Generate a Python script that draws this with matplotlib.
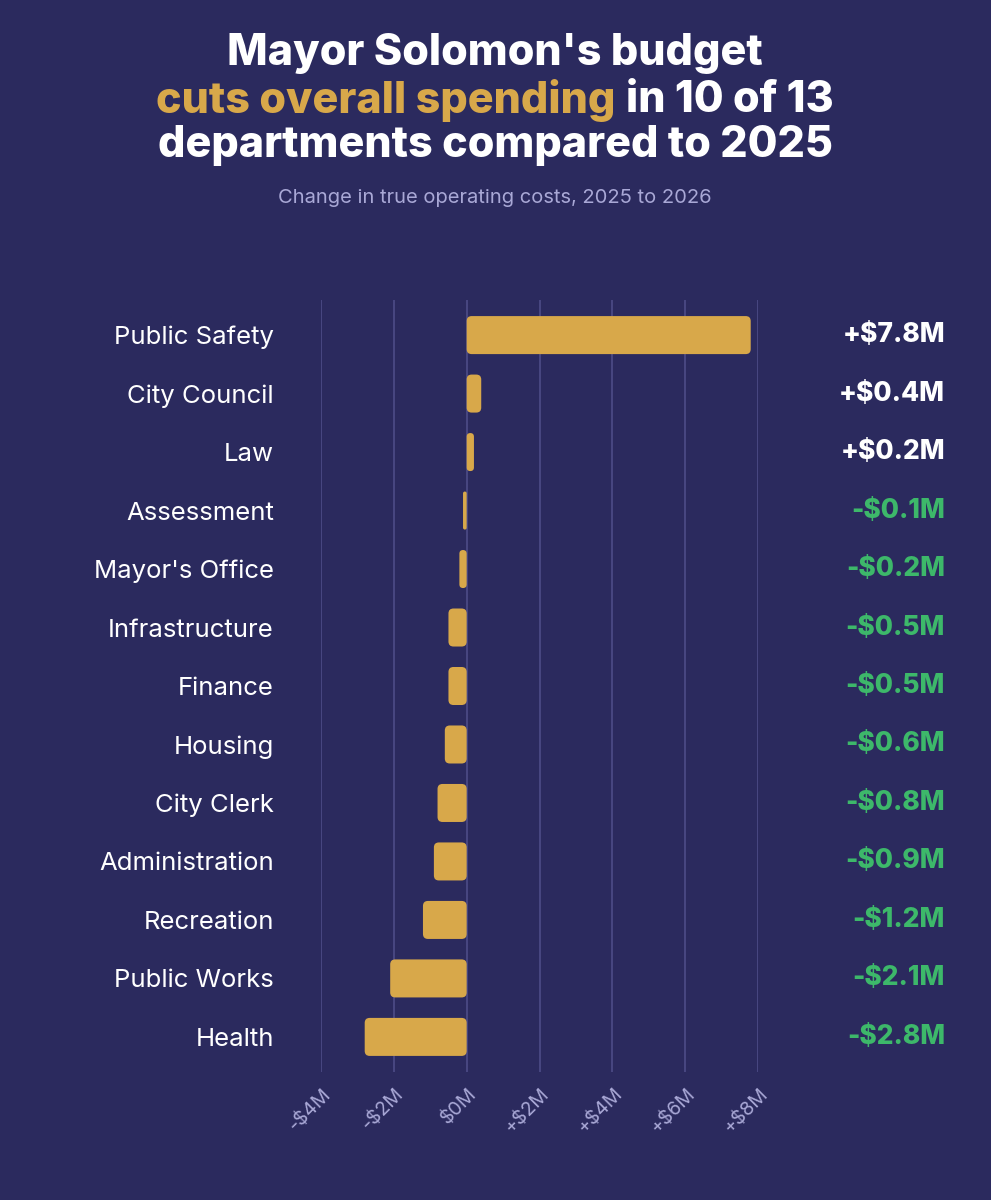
import matplotlib.pyplot as plt
import matplotlib.transforms as mtransforms
from matplotlib.patches import FancyBboxPatch

departments = ["Public Safety", "City Council", "Law", "Assessment", "Mayor's Office",
               "Infrastructure", "Finance", "Housing", "City Clerk", "Administration",
               "Recreation", "Public Works", "Health"]
changes = [7.8, 0.4, 0.2, -0.1, -0.2, -0.5, -0.5, -0.6, -0.8, -0.9, -1.2, -2.1, -2.8]
tick_values = [-4, -2, 0, 2, 4, 6, 8]
tick_labels = ["-$4M", "-$2M", "$0M", "+$2M", "+$4M", "+$6M", "+$8M"]

BG = "#2B2A5E"
GOLD = "#D8A84A"
GREEN = "#3DB86A"
GRID = "#4B4A84"
SUB = "#A9A8D6"
FONT = ["Inter", "DejaVu Sans"]

plt.rcParams["font.family"] = FONT

W, H = 991, 1200
fig = plt.figure(figsize=(W / 100, H / 100), dpi=100, facecolor=BG)

ax = fig.add_axes([321 / W, 1 - 1072 / H, (758 - 321) / W, (1072 - 300) / H])
ax.set_facecolor(BG)

ypos = list(range(len(departments)))
bars = ax.barh(ypos, changes, height=0.65, color=GOLD)

# swap plain bars for rounded ones
px_x = (758 - 321) / 12.0
px_y = (1072 - 300) / 13.2
for b in bars:
    x0, y0 = b.get_x(), b.get_y()
    w, h = b.get_width(), b.get_height()
    if w < 0:
        x0, w = x0 + w, -w
    r = min(5 / px_x, w / 2)
    patch = FancyBboxPatch((x0, y0), w, h,
                           boxstyle=f"round,pad=0,rounding_size={r}",
                           mutation_aspect=px_x / px_y,
                           facecolor=GOLD, edgecolor="none", zorder=3)
    ax.add_patch(patch)
    b.set_visible(False)

ax.set_xlim(-4, 8)
ax.set_ylim(12.6, -0.6)
ax.set_xticks(tick_values)
ax.set_xticklabels(tick_labels, rotation=45, ha="right", rotation_mode="anchor",
                   color=SUB, fontsize=14)
ax.set_yticks(ypos)
ax.set_yticklabels(departments, color="white", fontsize=18.5)
ax.tick_params(axis="y", length=0, pad=34)
ax.tick_params(axis="x", length=0, pad=9)
ax.grid(axis="x", color=GRID, linewidth=1.3, zorder=0)
ax.set_axisbelow(True)
for s in ax.spines.values():
    s.set_visible(False)

# value labels at right
trans = mtransforms.blended_transform_factory(fig.transFigure, ax.transData)
for y, v in zip(ypos, changes):
    sign = "+" if v > 0 else "-"
    ax.text(945 / W, y, f"{sign}${abs(v):.1f}M", transform=trans, ha="right", va="center",
            fontsize=19, fontweight=800, color="white" if v > 0 else GREEN)

# title
cx = 495 / W
tsize = 31
fig.text(cx, 1 - 53 / H, "Mayor Solomon's budget", ha="center", va="center",
         fontsize=tsize, fontweight=800, color="white")
fig.text(cx, 1 - 146 / H, "departments compared to 2025", ha="center", va="center",
         fontsize=tsize, fontweight=800, color="white")
t1 = fig.text(0, 1 - 101 / H, "cuts overall spending", ha="left", va="center",
              fontsize=tsize, fontweight=800, color=GOLD)
t2 = fig.text(0, 1 - 101 / H, "in 10 of 13", ha="left", va="center",
              fontsize=tsize, fontweight=800, color="white")
fig.canvas.draw()
rend = fig.canvas.get_renderer()
w1 = t1.get_window_extent(rend).width / W
w2 = t2.get_window_extent(rend).width / W
gap = 11 / W
start = cx - (w1 + gap + w2) / 2
t1.set_x(start)
t2.set_x(start + w1 + gap)

fig.text(cx, 1 - 198 / H, "Change in true operating costs, 2025 to 2026", ha="center",
         va="center", fontsize=14.5, color=SUB)

fig.savefig("out.png", dpi=100, facecolor=BG)
